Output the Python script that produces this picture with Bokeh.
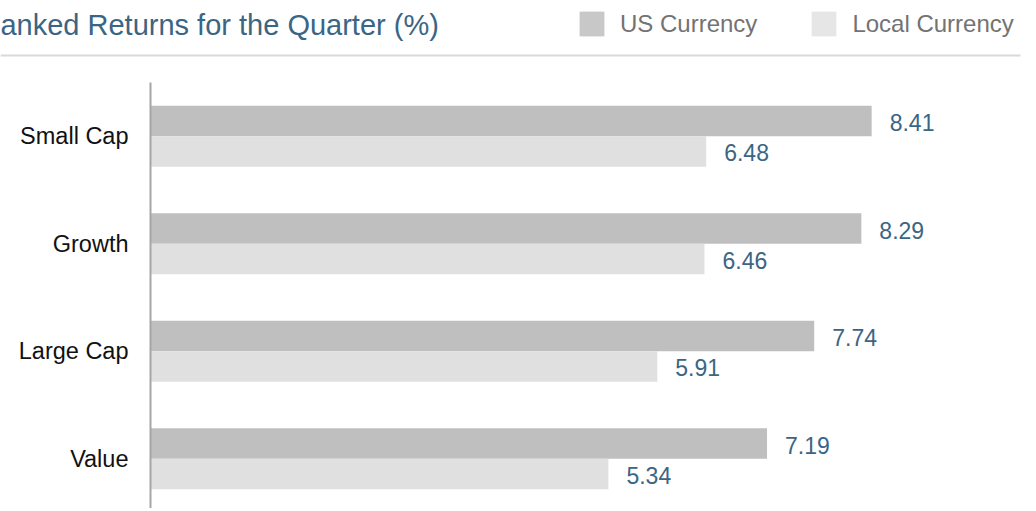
from bokeh.plotting import figure
from bokeh.models import (Range1d, FixedTicker, Legend, LegendItem, ColumnDataSource,
                          Label, BoxAnnotation)
from bokeh.embed import file_html
from bokeh.resources import INLINE

# ---- data ----
categories = ["Small Cap", "Growth", "Large Cap", "Value"]
us_currency = [8.41, 8.29, 7.74, 7.19]
local_currency = [6.48, 6.46, 5.91, 5.34]
series_names = ["US Currency", "Local Currency"]
title_text = "Ranked Returns for the Quarter (%)"

# ---- styles ----
US_COLOR = "#bfbfbf"
LOCAL_COLOR = "#e0e0e0"
US_SWATCH = "#c8c8c8"
LOCAL_SWATCH = "#e6e6e6"
BLUE = "#3b6584"
FONT = "Liberation Sans"

W, H = 1028, 508
PLOT_LEFT = 150      # pixel position of the value axis
PLOT_TOP = 82        # pixel position where the category area starts
PX_PER_UNIT_X = 85.75
PX_PER_BAND = 107.5

n = len(categories)
pos = [n - 1 - i for i in range(n)]  # top to bottom
bar_h = 0.2837
off = bar_h / 2

y_top = n - 0.5
y_end = y_top + PLOT_TOP / PX_PER_BAND
y_start = y_top - (H - PLOT_TOP) / PX_PER_BAND

p = figure(width=W, height=H, output_backend="svg", toolbar_location=None,
           x_axis_location=None,
           x_range=Range1d(-PLOT_LEFT / PX_PER_UNIT_X, (W - PLOT_LEFT) / PX_PER_UNIT_X),
           y_range=Range1d(y_start, y_end),
           min_border=0)
p.title.visible = False
p.outline_line_color = None
p.grid.visible = False
p.background_fill_color = "white"
p.border_fill_color = "white"

src = ColumnDataSource(dict(
    cat=categories,
    us=us_currency,
    loc=local_currency,
    y_us=[v + off for v in pos],
    y_loc=[v - off for v in pos],
    us_lbl=["%.2f" % v for v in us_currency],
    loc_lbl=["%.2f" % v for v in local_currency],
))

p.hbar(y="y_us", left=0, right="us", height=bar_h, source=src,
       fill_color=US_COLOR, line_color=None)
p.hbar(y="y_loc", left=0, right="loc", height=bar_h, source=src,
       fill_color=LOCAL_COLOR, line_color=None)

for xcol, ycol, tcol in (("us", "y_us", "us_lbl"), ("loc", "y_loc", "loc_lbl")):
    p.text(x=xcol, y=ycol, text=tcol, source=src, x_offset=18, y_offset=1.5,
           text_align="left", text_baseline="alphabetic",
           text_font={"value": FONT}, text_font_size="23px", text_color=BLUE)

ax = p.yaxis[0]
ax.fixed_location = 0
ax.bounds = (y_start, y_top)
ax.ticker = FixedTicker(ticks=pos)
ax.major_label_overrides = {v: c for v, c in zip(pos, categories)}
ax.major_tick_line_color = None
ax.minor_tick_line_color = None
ax.axis_line_color = "#a6a6a6"
ax.axis_line_width = 2
ax.major_label_text_font = FONT
ax.major_label_text_font_size = "23.5px"
ax.major_label_text_color = "#111111"
ax.major_label_standoff = 16

# title (its first letter is cut off at the left edge, as in the reference)
p.add_layout(Label(x=-21, y=H - 24, x_units="screen", y_units="screen",
                   text=title_text, text_font=FONT, text_font_size="29px",
                   text_color=BLUE, text_align="left", text_baseline="alphabetic"))

# separator line under the title
p.add_layout(BoxAnnotation(left=0, right=1020, top=H - 54, bottom=H - 56,
                           left_units="screen", right_units="screen",
                           top_units="screen", bottom_units="screen",
                           fill_color="#d9d9d9", fill_alpha=1, line_color=None))

# legend
nan = float("nan")
sw_us = p.quad(left=[nan], right=[nan], top=[nan], bottom=[nan],
               fill_color=US_SWATCH, line_color=None)
sw_loc = p.quad(left=[nan], right=[nan], top=[nan], bottom=[nan],
                fill_color=LOCAL_SWATCH, line_color=None)
legend = Legend(items=[LegendItem(label=series_names[0], renderers=[sw_us]),
                       LegendItem(label=series_names[1], renderers=[sw_loc])],
                location=(576, H - 43), orientation="horizontal",
                glyph_width=31, glyph_height=31, label_standoff=13, spacing=51,
                padding=0, margin=0, border_line_color=None,
                background_fill_alpha=0,
                label_text_font=FONT, label_text_font_size="24px",
                label_text_color="#737373", label_height=39)
p.add_layout(legend)

open("out.html", "w").write(file_html(p, INLINE))
